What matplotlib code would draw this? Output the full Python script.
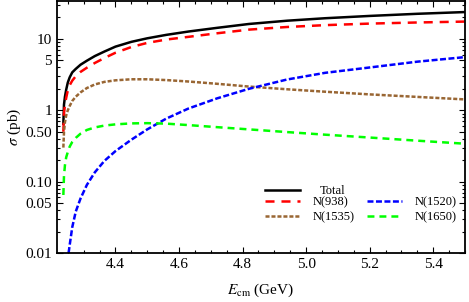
import matplotlib
matplotlib.use("Agg")
import matplotlib.pyplot as plt
from matplotlib.ticker import FixedLocator, FixedFormatter, MultipleLocator, LogLocator, NullFormatter

plt.rcParams['font.family'] = ['Liberation Serif', 'DejaVu Serif']
plt.rcParams['mathtext.fontset'] = 'stix'
plt.rcParams['lines.scale_dashes'] = False

# Energy grid (GeV)
E = [4.236, 4.238, 4.241, 4.245, 4.25, 4.256, 4.264, 4.275, 4.29, 4.31, 4.335, 4.365,
     4.40, 4.45, 4.50, 4.56, 4.63, 4.72, 4.82, 4.94, 5.06, 5.2, 5.35, 5.5]
total = [0.65, 1.2, 1.55, 1.95, 2.45, 2.9, 3.4, 3.8, 4.35, 4.95, 5.75, 6.65,
         7.8, 9.1, 10.2, 11.4, 12.7, 14.3, 16.2, 18.0, 19.5, 21.0, 22.5, 23.8]
n938 = [0.5, 0.9, 1.2, 1.5, 1.9, 2.25, 2.6, 3.0, 3.45, 3.95, 4.6, 5.4,
        6.4, 7.7, 8.8, 9.8, 10.7, 12.0, 13.5, 14.7, 15.6, 16.4, 17.0, 17.5]
n1535 = [0.3, 0.5, 0.68, 0.85, 1.0, 1.15, 1.35, 1.55, 1.78, 2.05, 2.3, 2.5,
         2.63, 2.72, 2.72, 2.65, 2.53, 2.35, 2.15, 1.97, 1.82, 1.67, 1.54, 1.42]
n1650 = [0.065, 0.12, 0.17, 0.22, 0.26, 0.31, 0.36, 0.41, 0.47, 0.53, 0.575, 0.61,
         0.635, 0.655, 0.66, 0.65, 0.62, 0.58, 0.54, 0.495, 0.455, 0.415, 0.375, 0.34]
E_1520 = [4.2525, 4.256, 4.264, 4.275, 4.29, 4.31, 4.335, 4.365,
          4.40, 4.45, 4.50, 4.56, 4.63, 4.72, 4.82, 4.94, 5.06, 5.2, 5.35, 5.5]
n1520 = [0.01, 0.013, 0.023, 0.038, 0.058, 0.09, 0.135, 0.195,
         0.268, 0.387, 0.54, 0.765, 1.06, 1.47, 2.0, 2.7, 3.35, 3.98, 4.8, 5.56]

ytick_vals = [0.01, 0.05, 0.10, 0.50, 1, 5, 10]
ytick_labels = ['0.01', '0.05', '0.10', '0.50', '1', '5', '10']
xtick_vals = [4.4, 4.6, 4.8, 5.0, 5.2, 5.4]
xtick_labels = ['4.4', '4.6', '4.8', '5.0', '5.2', '5.4']

fig = plt.figure(figsize=(4.69, 3.02), dpi=100)
ax = fig.add_axes([57/469, 1-253/302, 408/469, 252/302])

lw = 1.8
l_tot, = ax.plot(E, total, color='black', lw=lw, label='Total')
l_938, = ax.plot(E, n938, color='red', lw=lw, dashes=(6.5, 5), label='N(938)')
l_1535, = ax.plot(E, n1535, color=(0.6, 0.4, 0.2), lw=lw, dashes=(2.9, 1.4), label='N(1535)')
l_1520, = ax.plot(E_1520, n1520, color='blue', lw=lw, dashes=(4.3, 1.8), label='N(1520)')
l_1650, = ax.plot(E, n1650, color=(0, 1, 0), lw=lw, dashes=(5, 3.6), label='N(1650)')

ax.set_yscale('log')
ax.set_xlim(4.216, 5.5)
ax.set_ylim(0.01, 34)

ax.yaxis.set_major_locator(FixedLocator(ytick_vals))
ax.yaxis.set_major_formatter(FixedFormatter(ytick_labels))
ax.yaxis.set_minor_locator(LogLocator(base=10, subs=range(1, 10)))
ax.yaxis.set_minor_formatter(NullFormatter())
ax.xaxis.set_major_locator(FixedLocator(xtick_vals))
ax.xaxis.set_major_formatter(FixedFormatter(xtick_labels))
ax.xaxis.set_minor_locator(MultipleLocator(0.05))

ax.tick_params(which='both', direction='in', top=True, right=True, labelsize=11, width=0.8)
ax.tick_params(which='major', length=4)
ax.tick_params(which='minor', length=2)
for s in ax.spines.values():
    s.set_linewidth(1.3)

ax.set_xlabel(r'$E_{\rm cm}$ (GeV)', fontsize=11, labelpad=8)
ax.set_ylabel(r'$\sigma$ (pb)', fontsize=11, labelpad=2)

leg1 = ax.legend(handles=[l_tot], loc='upper left', bbox_to_anchor=(0.51, 0.27),
                 frameon=False, fontsize=9, handlelength=2.8, handletextpad=1.6,
                 borderpad=0, borderaxespad=0)
ax.add_artist(leg1)
ax.legend(handles=[l_938, l_1535, l_1520, l_1650], ncol=2, loc='upper left',
          bbox_to_anchor=(0.51, 0.225), frameon=False, fontsize=9, handlelength=2.8,
          handletextpad=1.0, columnspacing=1.0, borderpad=0, borderaxespad=0,
          labelspacing=0.25)

fig.savefig('out.png', dpi=100)
